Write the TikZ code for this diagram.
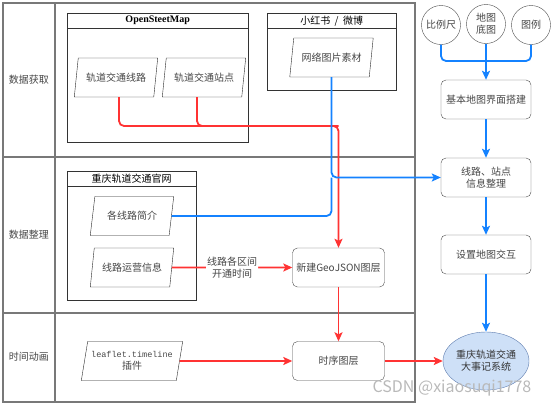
\documentclass[tikz,border=0pt]{standalone}
\usepackage{fontspec}
\setmainfont{Noto Sans CJK SC}
\setmonofont{Liberation Mono}
\newfontfamily\osmfont{Liberation Serif}
\usetikzlibrary{shapes.geometric,arrows.meta}
\definecolor{redline}{RGB}{255,51,51}
\definecolor{blueline}{RGB}{20,130,255}
\definecolor{framegray}{RGB}{120,120,120}
\definecolor{textgray}{RGB}{70,70,70}
\definecolor{sysfill}{RGB}{206,224,247}
\definecolor{sysdraw}{RGB}{95,125,175}
\tikzset{
  data/.style={draw=black!85, trapezium, trapezium left angle=74,
    trapezium right angle=106, trapezium stretches=true,
    minimum width=84pt, minimum height=39pt, inner sep=1pt,
    text=textgray, align=center},
  proc/.style={draw=black!70, rounded corners=5pt, minimum width=92pt,
    minimum height=39pt, text=textgray, align=center},
  src/.style={draw=black!70, circle, minimum size=39pt, inner sep=0pt,
    text=textgray, align=center},
  lane/.style={text=textgray},
  group/.style={draw=black!80, anchor=north west, inner sep=0pt},
  head/.style={draw=black!80, minimum height=15pt, anchor=north, inner sep=0pt},
  redline/.style={draw=redline, line width=1.8pt, rounded corners=5pt},
  blueline/.style={draw=blueline, line width=1.8pt, rounded corners=5pt},
  tip/.style={-{Stealth[length=9pt,width=8pt,inset=2pt]}}
}
\begin{document}
\begin{tikzpicture}[x=1pt,y=-1pt]
  \useasboundingbox (0,0) rectangle (554,407);
  % swimlanes
  \draw[framegray, line width=1.1pt] (3,3) rectangle (415,402);
  \draw[framegray, line width=1.4pt] (55,3) -- (55,402);
  \draw[framegray, line width=1.1pt] (3,157) -- (415,157);
  \draw[framegray, line width=1.1pt] (3,313) -- (415,313);
  \node[lane] (lane1) at (29,80) {数据获取};
  \node[lane] (lane2) at (29,235) {数据整理};
  \node[lane] (lane3) at (29,357) {时间动画};

  % source groups
  \node[group, minimum width=181pt, minimum height=129pt] (osm) at (67,13) {};
  \node[head, minimum width=181pt] (osmhead) at (osm.north) {\osmfont\bfseries OpenSteetMap};
  \node[group, minimum width=129pt, minimum height=77pt] (red) at (267,13) {};
  \node[head, minimum width=129pt] (redhead) at (red.north) {小红书\ \ /\ \ 微博};
  \node[group, minimum width=129pt, minimum height=129pt] (gov) at (67,171) {};
  \node[head, minimum width=129pt] (govhead) at (gov.north) {重庆轨道交通官网};

  % data
  \node[data] (line) at (116,77.5) {轨道交通线路};
  \node[data] (stop) at (204,77.5) {轨道交通站点};
  \node[data] (img) at (331.5,57.5) {网络图片素材};
  \node[data] (intro) at (132,216) {各线路简介};
  \node[data] (ops) at (132,267.5) {线路运营信息};
  \node[data, minimum width=102pt] (leaf) at (132,361)
    {{\ttfamily\fontsize{8.5}{10}\selectfont leaflet.timeline}\\插件};

  % processes
  \node[proc] (geo) at (338.5,267.5) {新建GeoJSON图层};
  \node[proc] (seq) at (338.5,361) {时序图层};
  \node[src] (scale) at (441,25) {比例尺};
  \node[src] (base) at (486,24) {地图\\底图};
  \node[src] (legend) at (531,25) {图例};
  \node[proc, minimum width=90pt] (ui) at (486,99.5) {基本地图界面搭建};
  \node[proc, minimum width=90pt] (info) at (486,177.5) {线路、站点\\信息整理};
  \node[proc, minimum width=90pt] (inter) at (486,254.5) {设置地图交互};
  \node[ellipse, draw=sysdraw, fill=sysfill, minimum width=86pt,
    minimum height=58pt, inner sep=0pt, align=center, text=black!80]
    (sys) at (486,361) {重庆轨道交通\\大事记系统};

  \coordinate (redturn) at (338.5,126);
  \coordinate (merge) at (486,61);

  % red flow
  \draw[redline] ([xshift=-7pt]stop.south) |- (redturn);
  \draw[redline, tip] ([xshift=3pt]line.south) |- (redturn) -- (geo.north);
  \draw[redline, tip] (ops.east) -- (geo.west)
    node[midway, fill=white, inner sep=1pt, align=center, text=textgray] (span) {线路各区间\\开通时间};
  \draw[redline, tip] (geo.south) -- (seq.north);
  \draw[redline, tip] (leaf.east) -- (seq.west);
  \draw[redline, tip] (seq.east) -- (sys.west);

  % blue flow
  \draw[blueline] (scale.south) |- (merge);
  \draw[blueline] (legend.south) |- (merge);
  \draw[blueline, tip] (base.south) -- (ui.north);
  \draw[blueline, tip] (ui.south) -- (info.north);
  \draw[blueline] (intro.east) -| (img.south |- info.west);
  \draw[blueline, tip] (img.south) |- (info.west);
  \draw[blueline, tip] (info.south) -- (inter.north);
  \draw[blueline, tip] (inter.south) -- (sys.north);

  \node[text=gray!55, font=\fontsize{16}{16}\selectfont] (mark) at (452,388) {CSDN @xiaosuqi1778};
\end{tikzpicture}
\end{document}
